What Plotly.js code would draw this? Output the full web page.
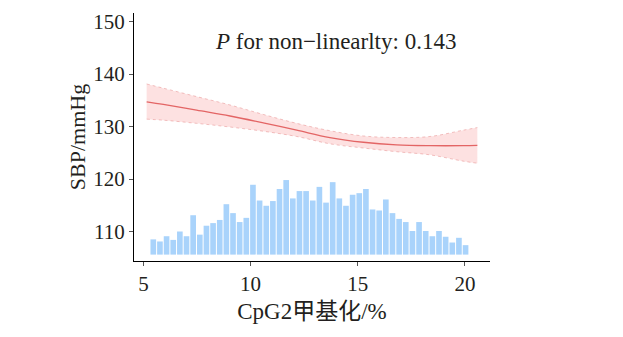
<!DOCTYPE html>
<html>
<head>
<meta charset="utf-8">
<script src="https://cdn.plot.ly/plotly-3.0.1.min.js"></script>
<style>html,body{margin:0;padding:0;background:#fff;}#chart{width:623px;height:337px;}</style>
</head>
<body>
<div id="chart"></div>
<script>
// Histogram of CpG2 methylation (bin centres, %), drawn as bars rising from a common base
var binCenters = [5.46, 5.77, 6.08, 6.39, 6.70, 7.01, 7.32, 7.63, 7.94, 8.25, 8.56, 8.87,
  9.18, 9.49, 9.80, 10.11, 10.42, 10.73, 11.04, 11.35, 11.66, 11.97, 12.28, 12.59,
  12.90, 13.21, 13.52, 13.83, 14.14, 14.45, 14.76, 15.07, 15.38, 15.69, 16.00, 16.31,
  16.62, 16.93, 17.24, 17.55, 17.86, 18.17, 18.48, 18.79, 19.10, 19.41, 19.72, 20.03];
var barTops = [108.5, 108.1, 109.1, 108.4, 110.0, 109.1, 113.1, 109.4, 111.1, 111.6, 112.2, 115.2,
  113.5, 111.8, 112.6, 118.9, 115.9, 114.9, 115.8, 118.1, 119.8, 116.3, 117.7, 117.7,
  115.9, 118.5, 115.5, 119.4, 116.3, 114.9, 117.0, 117.3, 118.1, 114.2, 114.0, 116.1,
  113.5, 112.4, 111.8, 110.1, 111.8, 110.1, 109.1, 110.1, 109.0, 107.9, 108.8, 107.4];
var barBase = 105.6;

// Restricted cubic spline fit with 95% CI
var fitX = [5.15, 5.93, 7.48, 9.04, 10.59, 12.15, 13.70, 15.26, 16.81, 18.37, 19.92, 20.58];
var fitY = [134.7, 134.2, 133.1, 132.0, 130.7, 129.3, 127.9, 127.0, 126.5, 126.35, 126.35, 126.4];
var ciUpper = [138.1, 137.3, 135.7, 134.1, 132.3, 130.6, 129.2, 128.2, 127.9, 128.1, 129.3, 129.8];
var ciLower = [131.4, 131.2, 130.6, 129.9, 129.1, 128.1, 126.7, 125.9, 125.2, 124.6, 123.4, 123.0];

var xTicks = [5, 10, 15, 20];
var yTicks = [110, 120, 130, 140, 150];

var serif = "Liberation Serif, 'Times New Roman', 'Noto Sans CJK SC', serif";
var txt = "#231f20";

var traces = [
  {
    type: "bar",
    x: binCenters,
    y: barTops.map(function (t) { return t - barBase; }),
    base: barBase,
    marker: { color: "#a9d3fb", line: { width: 0 } },
    hoverinfo: "skip",
    showlegend: false
  },
  {
    type: "scatter", mode: "lines",
    x: fitX, y: ciLower,
    line: { color: "rgba(228,130,130,0.6)", width: 0.8, dash: "dot", shape: "spline" },
    showlegend: false
  },
  {
    type: "scatter", mode: "lines",
    x: fitX, y: ciUpper,
    fill: "tonexty", fillcolor: "rgba(250,170,170,0.35)",
    line: { color: "rgba(228,130,130,0.6)", width: 0.8, dash: "dot", shape: "spline" },
    showlegend: false
  },
  {
    type: "scatter", mode: "lines",
    x: fitX, y: fitY,
    line: { color: "#e36565", width: 1.3, shape: "spline" },
    showlegend: false
  }
];

var layout = {
  width: 623, height: 337,
  margin: { l: 134, r: 133, t: 13, b: 76, pad: 0 },
  paper_bgcolor: "#fff", plot_bgcolor: "#fff",
  bargap: 0.15,
  font: { family: serif, color: txt, size: 21 },
  xaxis: {
    range: [4.56, 21.17],
    tickvals: xTicks, ticktext: xTicks.map(String),
    showgrid: false, zeroline: false,
    showline: true, linecolor: "#000", linewidth: 1,
    ticks: "outside", ticklen: 4, tickcolor: "#555", tickwidth: 1,
    tickfont: { family: serif, size: 21, color: txt },
    title: { text: "CpG2甲基化/%", font: { family: serif, size: 23, color: txt }, standoff: 7 },
    automargin: false
  },
  yaxis: {
    range: [104.38, 151.62],
    tickvals: yTicks, ticktext: yTicks.map(String),
    showgrid: false, zeroline: false,
    showline: true, linecolor: "#000", linewidth: 1,
    ticks: "outside", ticklen: 4, tickcolor: "#555", tickwidth: 1,
    tickfont: { family: serif, size: 21, color: txt },
    title: { text: "SBP/mmHg", font: { family: serif, size: 22, color: txt }, standoff: 1 },
    automargin: false
  },
  annotations: [{
    x: 13.98, y: 146.2, xref: "x", yref: "y",
    text: "<i>P</i> for non\u2212linearlty: 0.143",
    showarrow: false,
    font: { family: serif, size: 23, color: txt }
  }]
};

Plotly.newPlot("chart", traces, layout, { displayModeBar: false, staticPlot: true });
</script>
</body>
</html>
